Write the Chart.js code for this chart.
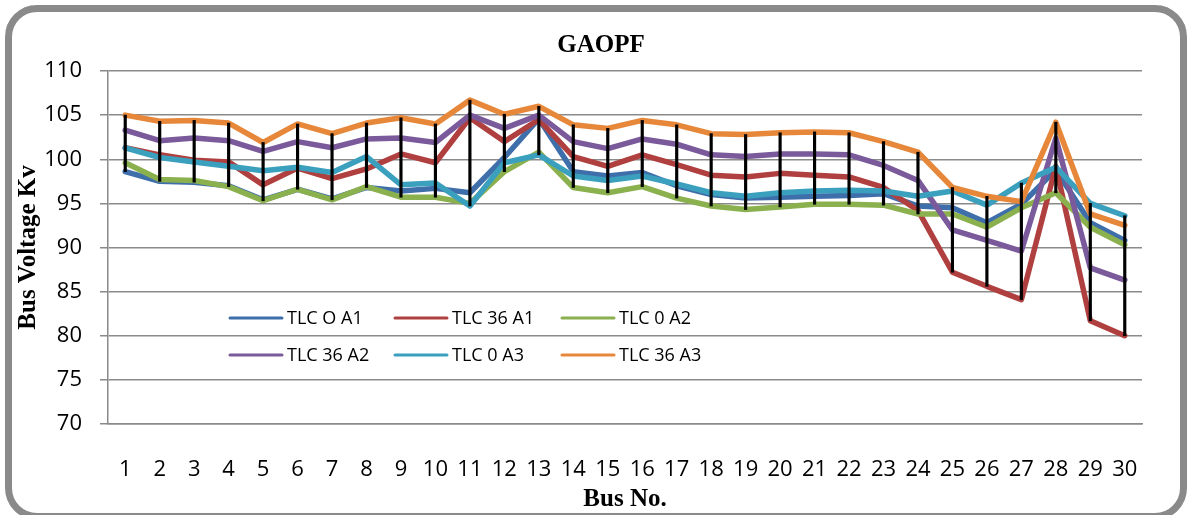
<!DOCTYPE html>
<html>
<head>
<meta charset="utf-8">
<script src="https://cdn.jsdelivr.net/npm/chart.js@4.4.1/dist/chart.umd.min.js"></script>
<style>
  html, body { margin: 0; padding: 0; background: #ffffff; }
  #wrap { position: relative; width: 1188px; height: 515px; overflow: hidden; }
  canvas { position: absolute; left: 0; top: 0; }
  #frame { position: absolute; left: 5px; top: 5px; width: 1182px; height: 515px; box-sizing: border-box;
           border: 7px solid #8a8a8a; border-radius: 32px; pointer-events: none; }
</style>
</head>
<body>
<div id="wrap">
  <canvas id="c" width="1188" height="515"></canvas>
  <div id="frame"></div>
</div>
<script>
const chartTitle = 'GAOPF';
const xTitle = 'Bus No.';
const yTitle = 'Bus Voltage Kv';
const busNo = ['1','2','3','4','5','6','7','8','9','10','11','12','13','14','15','16','17','18','19','20','21','22','23','24','25','26','27','28','29','30'];
const yTicks = [70, 75, 80, 85, 90, 95, 100, 105, 110];

const seriesNames = ['TLC O A1', 'TLC 36 A1', 'TLC 0 A2', 'TLC 36 A2', 'TLC 0 A3', 'TLC 36 A3'];
const tlc0A1  = [98.6, 97.5, 97.4, 97.0, 95.4, 96.6, 95.5, 96.8, 96.4, 96.7, 96.2, 100.2, 104.6, 98.6, 98.1, 98.5, 97.0, 96.0, 95.6, 95.7, 95.8, 95.9, 96.1, 94.7, 94.5, 92.8, 94.9, 98.8, 92.8, 90.8];
const tlc36A1 = [101.3, 100.5, 99.9, 99.7, 97.1, 99.0, 97.8, 98.9, 100.6, 99.6, 104.7, 102.0, 104.5, 100.3, 99.2, 100.5, 99.4, 98.2, 98.0, 98.4, 98.2, 98.0, 96.8, 94.2, 87.2, 85.6, 84.1, 99.2, 81.7, 80.0];
const tlc0A2  = [99.6, 97.7, 97.6, 96.9, 95.3, 96.6, 95.4, 96.9, 95.7, 95.7, 95.0, 98.6, 100.8, 96.8, 96.2, 96.9, 95.6, 94.7, 94.3, 94.6, 94.9, 94.9, 94.8, 93.8, 93.8, 92.3, 94.5, 96.2, 92.3, 90.3];
const tlc36A2 = [103.3, 102.1, 102.4, 102.1, 100.9, 102.0, 101.3, 102.3, 102.4, 101.9, 105.0, 103.5, 105.0, 102.0, 101.2, 102.3, 101.7, 100.5, 100.3, 100.6, 100.6, 100.5, 99.3, 97.6, 92.0, 90.8, 89.6, 102.4, 87.7, 86.3];
const tlc0A3  = [101.3, 100.2, 99.7, 99.2, 98.7, 99.1, 98.5, 100.3, 97.1, 97.3, 94.7, 99.6, 100.5, 98.1, 97.6, 98.1, 97.2, 96.2, 95.8, 96.2, 96.4, 96.5, 96.4, 95.8, 96.4, 94.8, 97.3, 99.1, 95.0, 93.6];
const tlc36A3 = [105.0, 104.3, 104.4, 104.1, 101.9, 104.0, 102.9, 104.1, 104.7, 104.0, 106.7, 105.1, 106.0, 103.9, 103.5, 104.4, 103.9, 102.9, 102.8, 103.0, 103.1, 103.0, 102.0, 100.8, 96.8, 95.8, 95.2, 104.2, 93.8, 92.5];

const allSeries = [tlc0A1, tlc36A1, tlc0A2, tlc36A2, tlc0A3, tlc36A3];
const colors = ['#3f6fab', '#b0403f', '#8bb04e', '#7a5a9a', '#3aa0be', '#e6873a'];

const hiLow = busNo.map((_, i) => {
  const v = allSeries.map(s => s[i]);
  return [Math.min(...v), Math.max(...v)];
});

const lineSets = allSeries.map((s, k) => ({
  type: 'line',
  label: seriesNames[k],
  data: s,
  borderColor: colors[k],
  backgroundColor: colors[k],
  borderWidth: 5.5,
  pointRadius: 0,
  tension: 0,
  borderJoinStyle: 'round',
  borderCapStyle: 'round',
  order: allSeries.length - k
}));

const hiLowSet = {
  type: 'bar',
  label: 'hilow',
  data: hiLow,
  backgroundColor: '#000000',
  barThickness: 2.5,
  order: 0
};

const overlay = {
  id: 'overlay',
  afterDraw(chart) {
    const ctx = chart.ctx;
    ctx.save();
    ctx.fillStyle = '#000';
    ctx.font = 'bold 25px "Liberation Serif", "Times New Roman", serif';
    ctx.textAlign = 'center';
    ctx.textBaseline = 'middle';
    ctx.fillText(chartTitle, 601, 46);
    // legend
    const cols = [230, 395, 562];
    const rows = [318, 355];
    ctx.font = '18px "Open Sans", sans-serif';
    ctx.textAlign = 'left';
    for (let k = 0; k < seriesNames.length; k++) {
      const x = cols[k % 3], y = rows[Math.floor(k / 3)];
      ctx.strokeStyle = colors[k];
      ctx.lineWidth = 3;
      ctx.lineCap = 'round';
      ctx.beginPath();
      ctx.moveTo(x, y);
      ctx.lineTo(x + 52, y);
      ctx.stroke();
      ctx.fillStyle = '#000';
      ctx.fillText(seriesNames[k], x + 57, y + 1);
    }
    ctx.restore();
  }
};

new Chart(document.getElementById('c'), {
  type: 'line',
  data: { labels: busNo, datasets: [...lineSets, hiLowSet] },
  options: {
    responsive: false,
    animation: false,
    layout: { padding: { left: 14, right: 46, top: 71, bottom: 0 } },
    plugins: { legend: { display: false }, title: { display: false }, tooltip: { enabled: false } },
    scales: {
      x: {
        type: 'category',
        offset: true,
        grid: { display: false },
        border: { display: true, color: '#8a8a8a', width: 1.5 },
        ticks: { color: '#000', font: { family: '"Open Sans", sans-serif', size: 22 }, padding: 25, maxRotation: 0, minRotation: 0, autoSkip: false },
        title: { display: true, text: xTitle, color: '#000', font: { family: '"Liberation Serif", "Times New Roman", serif', size: 25, weight: 'bold' }, padding: { top: 0, bottom: 0 } },
        afterFit(s) { s.height = 91; }
      },
      y: {
        min: 70, max: 110,
        afterBuildTicks(s) { s.ticks = yTicks.map(v => ({ value: v })); },
        grid: { color: '#8a8a8a', lineWidth: 1.5, drawTicks: true, tickLength: 8 },
        border: { display: true, color: '#8a8a8a', width: 1.5 },
        ticks: { color: '#000', font: { family: '"Open Sans", sans-serif', size: 22 }, padding: 18 },
        title: { display: true, text: yTitle, color: '#000', font: { family: '"Liberation Serif", "Times New Roman", serif', size: 25, weight: 'bold' }, padding: { top: 0, bottom: 0 } },
        afterFit(s) { s.width = 94; }
      }
    }
  },
  plugins: [overlay]
});
</script>
</body>
</html>
